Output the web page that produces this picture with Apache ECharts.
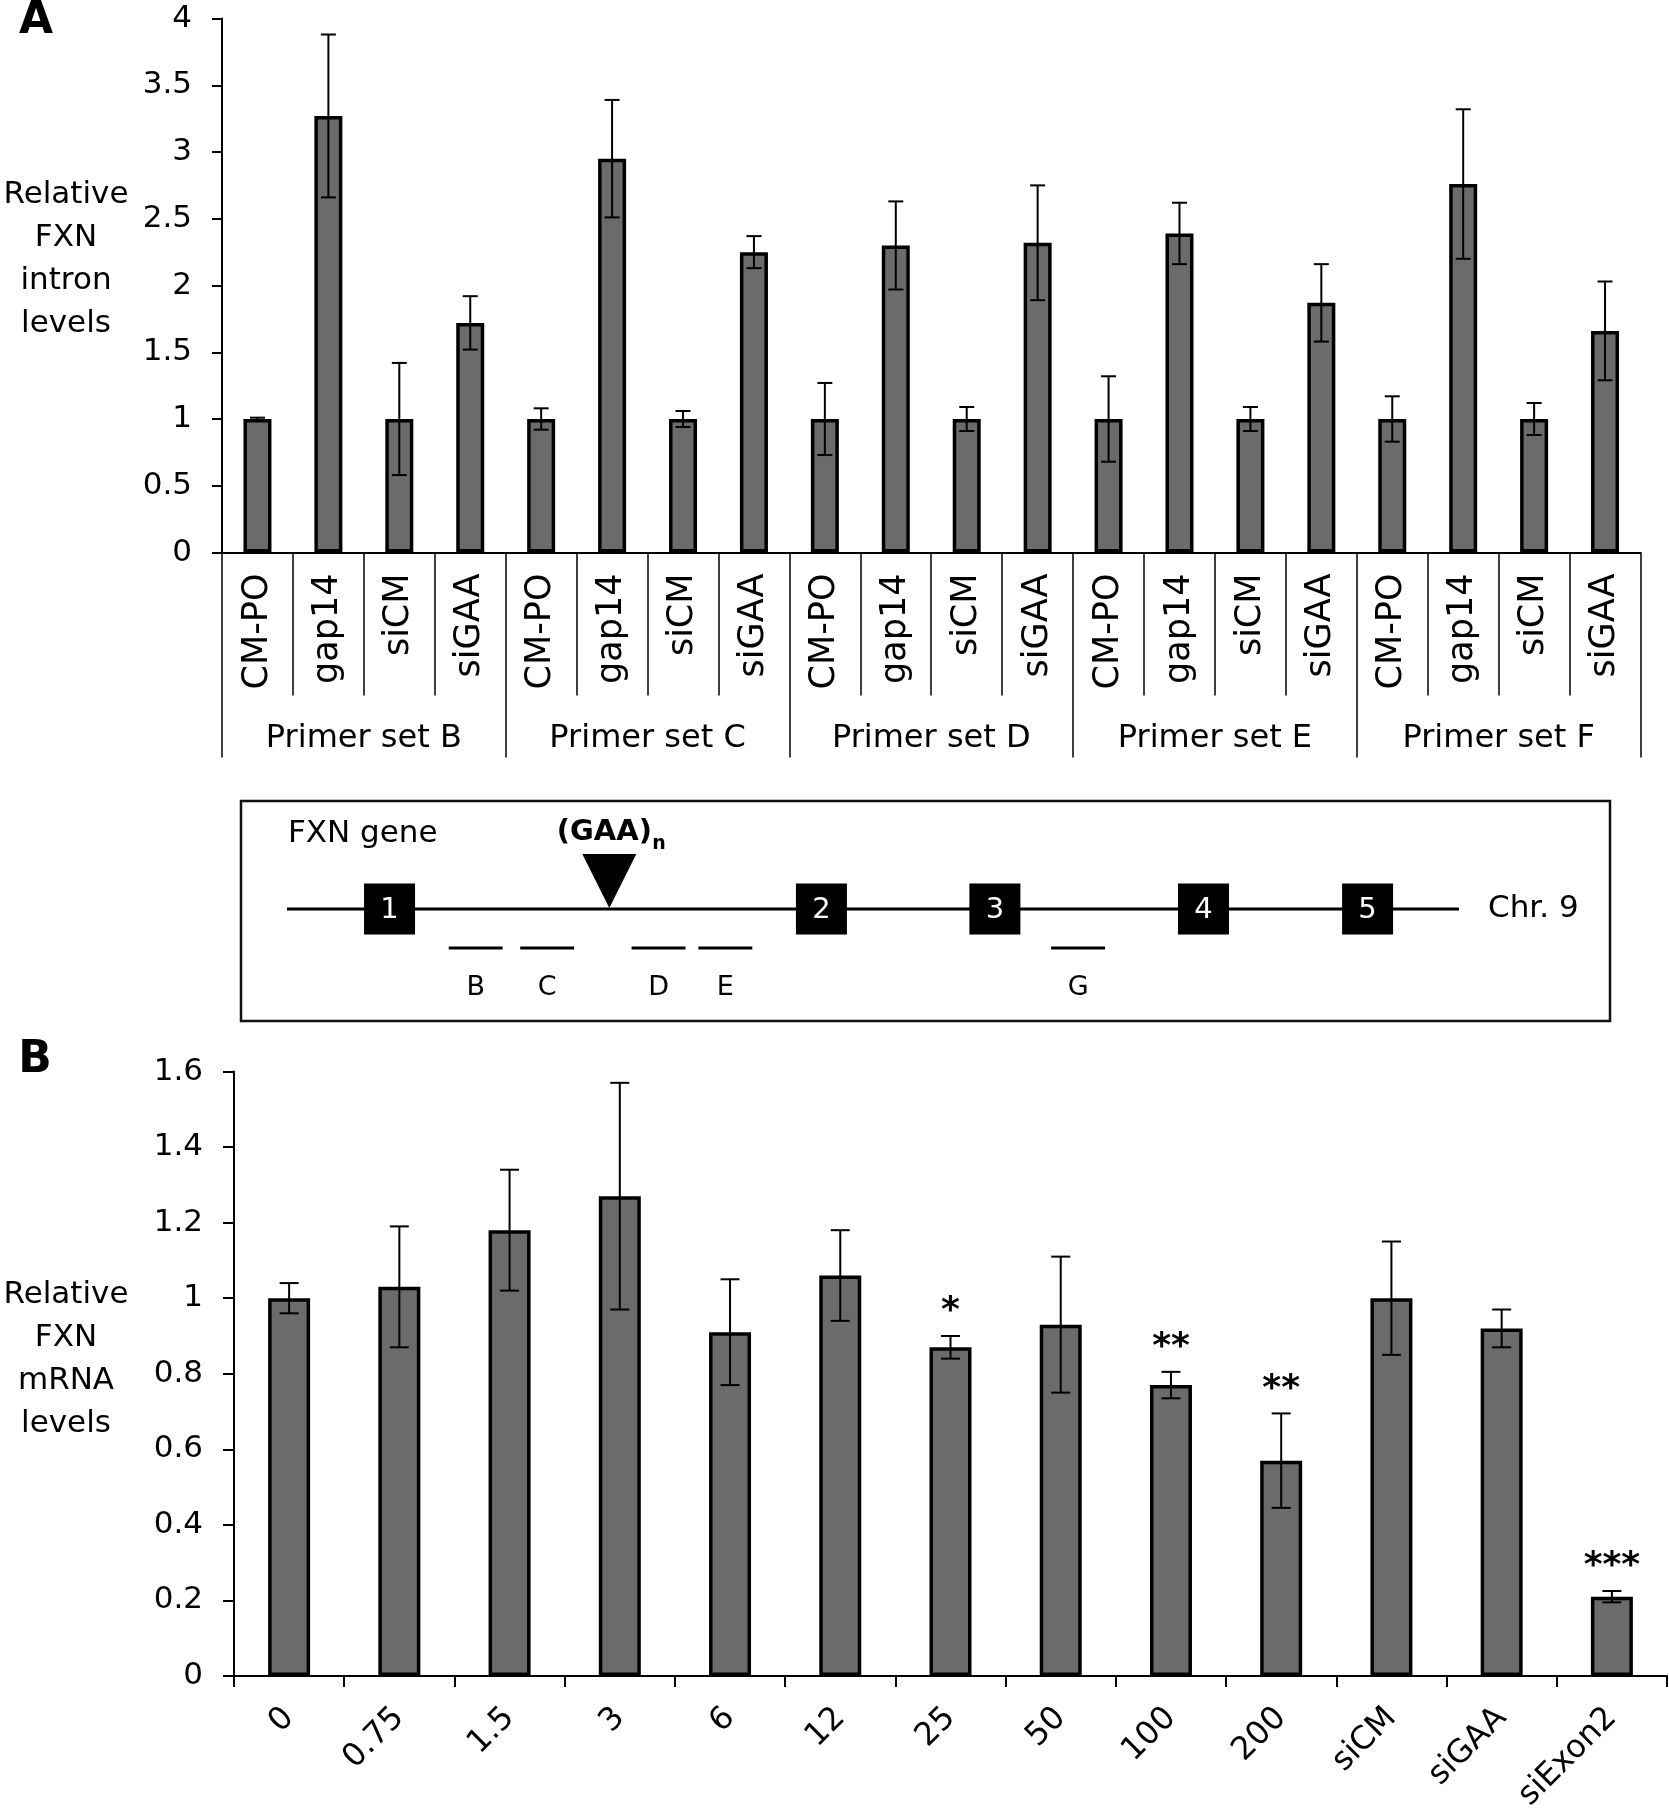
<!DOCTYPE html>
<html>
<head>
<meta charset="utf-8">
<script src="https://cdn.jsdelivr.net/npm/echarts@6/dist/echarts.min.js"></script>
<style>
html,body{margin:0;padding:0;background:#fff;}
#chart{width:1669px;height:1809px;}
</style>
</head>
<body>
<div id="chart"></div>
<script>
// ---------- Panel A data ----------
const treatmentsA = ['CM-PO', 'gap14', 'siCM', 'siGAA'];
const primerSets = ['Primer set B', 'Primer set C', 'Primer set D', 'Primer set E', 'Primer set F'];
const valuesA = [1.00, 3.27, 1.00, 1.72,  1.00, 2.95, 1.00, 2.25,  1.00, 2.30, 1.00, 2.32,  1.00, 2.39, 1.00, 1.87,  1.00, 2.76, 1.00, 1.66];
const errorsA = [0.01, 0.61, 0.42, 0.20,  0.08, 0.44, 0.06, 0.12,  0.27, 0.33, 0.09, 0.43,  0.32, 0.23, 0.09, 0.29,  0.17, 0.56, 0.12, 0.37];
const yMaxA = 4, yStepA = 0.5;

// ---------- Panel B data ----------
const catsB = ['0', '0.75', '1.5', '3', '6', '12', '25', '50', '100', '200', 'siCM', 'siGAA', 'siExon2'];
const valuesB = [1.00, 1.03, 1.18, 1.27, 0.91, 1.06, 0.87, 0.93, 0.77, 0.57, 1.00, 0.92, 0.21];
const errorsB = [0.04, 0.16, 0.16, 0.30, 0.14, 0.12, 0.03, 0.18, 0.035, 0.125, 0.15, 0.05, 0.015];
const sigB    = ['', '', '', '', '', '', '*', '', '**', '**', '', '', '***'];
const yMaxB = 1.6, yStepB = 0.2;

// ---------- Gene schematic (gene coordinate 0..1000) ----------
const exonLabels = ['1', '2', '3', '4', '5'];
const exonPos = [87.5, 456, 604, 782, 922];
const primerNames = ['B', 'C', 'D', 'E', 'G'];
const primerStart = [138, 199, 294, 351, 652];
const primerEnd   = [184, 245, 340, 397, 698];
const gaaPos = [275];
const chromExtent = [0, 1000];

// ---------- build ----------
const catsA = [];
primerSets.forEach(() => treatmentsA.forEach(t => catsA.push(t)));
const FF = "'DejaVu Sans', sans-serif";
const axisLineStyle = { color: '#000', width: 2 };

function errRender(capHalf, stars) {
  return function (params, api) {
    const i = api.value(0), v = api.value(1), e = api.value(2);
    const top = api.coord([i, v + e]);
    const bot = api.coord([i, v - e]);
    const st = { stroke: '#000', lineWidth: 2 };
    const ch = [
      { type: 'line', shape: { x1: top[0], y1: top[1], x2: bot[0], y2: bot[1] }, style: st },
      { type: 'line', shape: { x1: top[0] - capHalf, y1: top[1], x2: top[0] + capHalf, y2: top[1] }, style: st },
      { type: 'line', shape: { x1: bot[0] - capHalf, y1: bot[1], x2: bot[0] + capHalf, y2: bot[1] }, style: st }
    ];
    if (stars && stars[params.dataIndex]) {
      ch.push({ type: 'text', style: { text: stars[params.dataIndex], x: top[0], y: top[1] - 6,
        align: 'center', verticalAlign: 'bottom', font: 'bold 36px ' + FF, fill: '#000' } });
    }
    return { type: 'group', children: ch };
  };
}

const chart = echarts.init(document.getElementById('chart'), null, { renderer: 'canvas' });
const option = {
  animation: false,
  backgroundColor: '#fff',
  textStyle: { fontFamily: FF, color: '#000' },
  grid: [
    { left: 222, top: 18.5, width: 1418.5, height: 534, containLabel: false, outerBoundsMode: 'none' },
    { left: 234, top: 1071.5, width: 1433, height: 604.5, containLabel: false, outerBoundsMode: 'none' },
    { left: 287, top: 859, width: 1172, height: 100, containLabel: false, outerBoundsMode: 'none' }
  ],
  xAxis: [
    { type: 'category', gridIndex: 0, data: catsA, position: 'bottom',
      axisLine: { lineStyle: axisLineStyle },
      axisTick: { show: true, interval: 0, length: 143, lineStyle: { color: '#000', width: 1.5 } },
      axisLabel: { interval: 0, rotate: 90, margin: 21, fontSize: 35, color: '#000', fontFamily: FF } },
    { type: 'category', gridIndex: 0, data: primerSets, position: 'bottom', offset: 0,
      axisLine: { show: false },
      axisTick: { show: true, interval: 0, length: 205, lineStyle: { color: '#000', width: 1.5 } },
      axisLabel: { interval: 0, margin: 170, fontSize: 32, color: '#000', fontFamily: FF } },
    { type: 'category', gridIndex: 1, data: catsB, position: 'bottom',
      axisLine: { lineStyle: axisLineStyle },
      axisTick: { show: true, interval: 0, length: 11, lineStyle: { color: '#000', width: 2 } },
      axisLabel: { interval: 0, rotate: 45, margin: 37, fontSize: 32, color: '#000', fontFamily: FF } },
    { type: 'value', gridIndex: 2, min: chromExtent[0], max: chromExtent[1], show: false }
  ],
  yAxis: [
    { type: 'value', gridIndex: 0, min: 0, max: yMaxA, interval: yStepA,
      axisLine: { show: true, lineStyle: axisLineStyle },
      axisTick: { show: true, length: 10, lineStyle: { color: '#000', width: 2 } },
      splitLine: { show: false },
      axisLabel: { margin: 30, fontSize: 31, color: '#000', fontFamily: FF } },
    { type: 'value', gridIndex: 1, min: 0, max: yMaxB, interval: yStepB,
      axisLine: { show: true, lineStyle: axisLineStyle },
      axisTick: { show: true, length: 11, lineStyle: { color: '#000', width: 2 } },
      splitLine: { show: false },
      axisLabel: { margin: 31, fontSize: 31, color: '#000', fontFamily: FF } },
    { type: 'value', gridIndex: 2, min: 0, max: 1, show: false }
  ],
  series: [
    { type: 'bar', xAxisIndex: 0, yAxisIndex: 0, data: valuesA, barWidth: 28,
      itemStyle: { color: '#6b6b6b', borderColor: '#000', borderWidth: 3.5 } },
    { type: 'custom', xAxisIndex: 0, yAxisIndex: 0, z: 5,
      data: valuesA.map((v, i) => [i, v, errorsA[i]]),
      encode: { x: 0, y: 1 }, renderItem: errRender(7.5, null) },
    { type: 'bar', xAxisIndex: 2, yAxisIndex: 1, data: valuesB, barWidth: 42,
      itemStyle: { color: '#6b6b6b', borderColor: '#000', borderWidth: 3.5 } },
    { type: 'custom', xAxisIndex: 2, yAxisIndex: 1, z: 5,
      data: valuesB.map((v, i) => [i, v, errorsB[i]]),
      encode: { x: 0, y: 1 }, renderItem: errRender(9.5, sigB) },
    // gene schematic
    { type: 'line', xAxisIndex: 3, yAxisIndex: 2, symbol: 'none', z: 2,
      data: [[chromExtent[0], 0.5], [chromExtent[1], 0.5]],
      lineStyle: { color: '#000', width: 3 } },
    { type: 'custom', xAxisIndex: 3, yAxisIndex: 2, z: 4,
      data: exonPos.map(p => [p, 0.5]), encode: { x: 0, y: 1 },
      renderItem: function (params, api) {
        const c = api.coord([api.value(0), 0.5]);
        return { type: 'group', children: [
          { type: 'rect', shape: { x: c[0] - 25.5, y: c[1] - 25.5, width: 51, height: 51 }, style: { fill: '#000' } },
          { type: 'text', style: { text: exonLabels[params.dataIndex], x: c[0], y: c[1] + 1, align: 'center', verticalAlign: 'middle', font: '29px ' + FF, fill: '#fff' } }
        ] };
      } },
    { type: 'custom', xAxisIndex: 3, yAxisIndex: 2, z: 4,
      data: primerStart.map((s, i) => [s, primerEnd[i]]), encode: { x: [0, 1] },
      renderItem: function (params, api) {
        const a = api.coord([api.value(0), 0.5]);
        const b = api.coord([api.value(1), 0.5]);
        return { type: 'group', children: [
          { type: 'line', shape: { x1: a[0], y1: a[1] + 39, x2: b[0], y2: b[1] + 39 }, style: { stroke: '#000', lineWidth: 3 } },
          { type: 'text', style: { text: primerNames[params.dataIndex], x: (a[0] + b[0]) / 2, y: a[1] + 79, align: 'center', verticalAlign: 'middle', font: '27px ' + FF, fill: '#000' } }
        ] };
      } },
    { type: 'custom', xAxisIndex: 3, yAxisIndex: 2, z: 4,
      data: gaaPos.map(p => [p, 0.5]), encode: { x: 0, y: 1 },
      renderItem: function (params, api) {
        const c = api.coord([api.value(0), 0.5]);
        return { type: 'group', children: [
          { type: 'polygon', shape: { points: [[c[0], c[1] - 1], [c[0] - 27, c[1] - 55], [c[0] + 27, c[1] - 55]] }, style: { fill: '#000' } },
          { type: 'text', style: { text: '(GAA)', x: c[0] - 5, y: c[1] - 77, align: 'center', verticalAlign: 'middle', font: 'bold 29px ' + FF, fill: '#000' } },
          { type: 'text', style: { text: 'n', x: c[0] + 43, y: c[1] - 65, align: 'left', verticalAlign: 'middle', font: 'bold 19px ' + FF, fill: '#000' } }
        ] };
      } }
  ],
  graphic: [
    { type: 'text', style: { text: 'A', x: 36, y: 22, align: 'center', verticalAlign: 'middle', font: 'bold 44px ' + FF, fill: '#000' } },
    { type: 'text', style: { text: 'B', x: 35, y: 1061, align: 'center', verticalAlign: 'middle', font: 'bold 44px ' + FF, fill: '#000' } },
    { type: 'text', style: { text: 'Relative\nFXN\nintron\nlevels', x: 66, y: 259, align: 'center', verticalAlign: 'middle', font: '31px ' + FF, lineHeight: 43, fill: '#000' } },
    { type: 'text', style: { text: 'Relative\nFXN\nmRNA\nlevels', x: 66, y: 1359, align: 'center', verticalAlign: 'middle', font: '31px ' + FF, lineHeight: 43, fill: '#000' } },
    { type: 'rect', shape: { x: 241, y: 801, width: 1369, height: 220 }, style: { fill: 'none', stroke: '#111', lineWidth: 2.5 } },
    { type: 'text', style: { text: 'FXN gene', x: 288, y: 834, align: 'left', verticalAlign: 'middle', font: '31px ' + FF, fill: '#000' } },
    { type: 'text', style: { text: 'Chr. 9', x: 1488, y: 909, align: 'left', verticalAlign: 'middle', font: '31px ' + FF, fill: '#000' } }
  ]
};
chart.setOption(option);
</script>
</body>
</html>
